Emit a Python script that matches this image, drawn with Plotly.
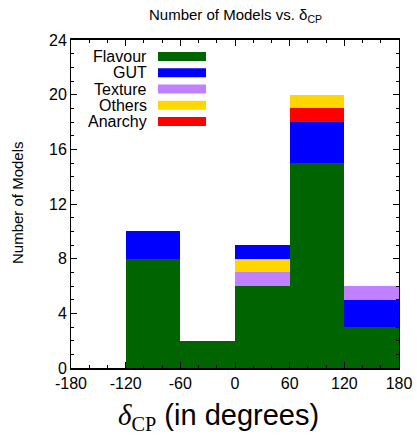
import plotly.graph_objects as go

# Histogram of models by predicted CP phase (degrees), split by model class
bin_edges = [-180, -120, -60, 0, 60, 120, 180]
x_tick_labels = ["-180", "-120", "-60", "0", "60", "120", "180"]
y_tick_values = [0, 4, 8, 12, 16, 20, 24]
categories = ["Flavour", "GUT", "Texture", "Others", "Anarchy"]
flavour = [0, 8, 2, 6, 15, 3]
gut = [0, 2, 0, 1, 3, 2]
texture = [0, 0, 0, 1, 0, 1]
others = [0, 0, 0, 1, 1, 0]
anarchy = [0, 0, 0, 0, 1, 0]

# order in which the classes are piled up inside each bin (bottom -> top)
stack_order = [
    ["Flavour", "GUT", "Texture", "Others", "Anarchy"],
    ["Flavour", "GUT", "Texture", "Others", "Anarchy"],
    ["Flavour", "GUT", "Texture", "Others", "Anarchy"],
    ["Flavour", "Texture", "Others", "GUT", "Anarchy"],
    ["Flavour", "GUT", "Anarchy", "Others", "Texture"],
    ["Flavour", "GUT", "Texture", "Others", "Anarchy"],
]

counts = {"Flavour": flavour, "GUT": gut, "Texture": texture,
          "Others": others, "Anarchy": anarchy}
colors = {"Flavour": "#006400", "GUT": "#0000FF", "Texture": "#C080FF",
          "Others": "#FFD700", "Anarchy": "#FF0000"}

centers = [(a + b) / 2 for a, b in zip(bin_edges[:-1], bin_edges[1:])]
width = bin_edges[1] - bin_edges[0]

# base of every segment from the per-bin stacking order
bases = {c: [0] * len(centers) for c in categories}
for i, order in enumerate(stack_order):
    level = 0
    for c in order:
        bases[c][i] = level
        level += counts[c][i]

FONT = "Liberation Sans"
fig = go.Figure()
for c in categories:
    fig.add_trace(go.Bar(
        x=centers, y=counts[c], base=bases[c], width=width, name=c,
        marker=dict(color=colors[c], line=dict(width=0)),
        showlegend=False,
    ))

# plot-area geometry in pixels
W, H = 417, 438
L, R, T, B = 71, 18, 40, 70
pw, ph = W - L - R, H - T - B


def px_x(px):
    return (px - L) / pw


def px_y(py):
    return (H - B - py) / ph


# gnuplot-style key: right-aligned label followed by a colour bar
shapes = []
annotations = []
for k, c in enumerate(categories):
    yc = 56.5 + 16.25 * k
    shapes.append(dict(type="rect", xref="paper", yref="paper",
                       x0=px_x(158), x1=px_x(206),
                       y0=px_y(yc + 4.5), y1=px_y(yc - 4.5),
                       fillcolor=colors[c], line=dict(width=0), layer="above"))
    annotations.append(dict(text=c, xref="paper", yref="paper",
                            x=px_x(149), y=px_y(yc), xanchor="right",
                            yanchor="middle", showarrow=False,
                            font=dict(family=FONT, size=16, color="black")))

annotations.append(dict(text="Number of Models vs. δ<sub>CP</sub>",
                        xref="paper", yref="paper", x=0.5, y=px_y(15),
                        xanchor="center", yanchor="middle", showarrow=False,
                        font=dict(family=FONT, size=15, color="black")))
annotations.append(dict(text="Number of Models", textangle=-90,
                        xref="paper", yref="paper", x=px_x(17), y=px_y(203),
                        xanchor="center", yanchor="middle", showarrow=False,
                        font=dict(family=FONT, size=15, color="black")))
annotations.append(dict(
    text='<span style="font-family:Liberation Serif"><i>δ</i><sub>CP</sub></span> (in degrees)',
    xref="paper", yref="paper", x=px_x(218), y=px_y(417),
    xanchor="center", yanchor="middle", showarrow=False,
    font=dict(family=FONT, size=29, color="black")))

axis_common = dict(
    showline=True, linecolor="black", mirror="ticks",
    ticks="inside", ticklen=6, tickwidth=1, tickcolor="black",
    showgrid=False, zeroline=False, automargin=False,
    tickfont=dict(family=FONT, size=16, color="black"),
)

fig.update_layout(
    width=W, height=H, autosize=False,
    margin=dict(l=L, r=R, t=T, b=B, autoexpand=False),
    paper_bgcolor="white", plot_bgcolor="white",
    barmode="overlay", bargap=0,
    shapes=shapes, annotations=annotations,
    xaxis=dict(range=[bin_edges[0], bin_edges[-1]], tickmode="array",
               tickvals=bin_edges, ticktext=x_tick_labels, linewidth=1.5,
               minor=dict(tick0=-180, dtick=20, ticks="inside", ticklen=3,
                          tickcolor="black", showgrid=False),
               **axis_common),
    yaxis=dict(range=[y_tick_values[0], y_tick_values[-1]], tickmode="array",
               tickvals=y_tick_values, linewidth=1,
               minor=dict(tick0=0, dtick=1, ticks="inside", ticklen=3,
                          tickcolor="black", showgrid=False),
               **axis_common),
)

fig.write_html("out.html")
